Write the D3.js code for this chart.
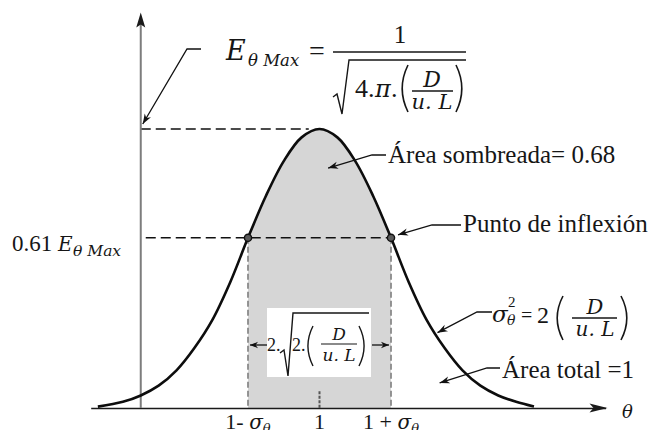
<!DOCTYPE html>
<html>
<head>
<meta charset="utf-8">
<script src="https://cdn.jsdelivr.net/npm/d3@7"></script>
<style>
  html, body { margin: 0; padding: 0; background: #fff; }
  svg { display: block; }
  .txt  { font-family: "Liberation Serif", "Times New Roman", serif; fill: #161616; }
  .math { font-family: "DejaVu Serif", serif; font-style: italic; fill: #161616; }
</style>
</head>
<body>
<svg id="chart" width="654" height="430"></svg>
<script>
// Offsets from the mean (θ = 1), in units of σθ
const offsets = [-3.1, -2.75, -2.5, -2.25, -2, -1.75, -1.5, -1.25, -1, -0.75, -0.5, -0.25, 0,
                 0.25, 0.5, 0.75, 1, 1.25, 1.5, 1.75, 2, 2.25, 2.5, 2.75, 3.0];
// E(θ) as a fraction of Eθ Max
const relE = [0.005, 0.022, 0.045, 0.08, 0.135, 0.215, 0.315, 0.45, 0.61, 0.76, 0.885, 0.97, 1.0,
              0.97, 0.885, 0.76, 0.61, 0.45, 0.315, 0.215, 0.135, 0.08, 0.045, 0.022, 0.005];
// Tick positions on the θ axis: 1 - σθ, 1, 1 + σθ
const tickOffsets = [-1, 0, 1];
const tickMain = ["1-\u00a0", "1", "1 + "];
const tickSigma = ["σ", "", "σ"];
// Reference levels
const levelMax = 1;
const levelInflexion = 0.61;
const shadedSpan = [-1, 1];
const centreTickHeight = 0.06;
const yAxisOffset = -2.5;
const yAxisTop = 1.41;

const svg = d3.select("#chart");
const x = d3.scaleLinear().domain([-3.2, 4.0]).range([90.7, 605.5]);
const y = d3.scaleLinear().domain([0, 1]).range([408, 129]);

const pts = offsets.map((t, i) => ({ t, e: relE[i] }));
const curve = d3.curveCatmullRom.alpha(0.5);

// Shaded area between 1 - σθ and 1 + σθ
svg.append("clipPath").attr("id", "band")
  .append("rect")
  .attr("x", x(shadedSpan[0])).attr("y", 0)
  .attr("width", x(shadedSpan[1]) - x(shadedSpan[0])).attr("height", y(0));
svg.append("path")
  .datum(pts)
  .attr("clip-path", "url(#band)")
  .attr("fill", "#d6d6d6")
  .attr("d", d3.area().x(d => x(d.t)).y0(y(0)).y1(d => y(d.e)).curve(curve));

// Vertical dashed guides at 1 ± σθ
shadedSpan.forEach(t => {
  svg.append("line")
    .attr("x1", x(t)).attr("x2", x(t))
    .attr("y1", y(levelInflexion)).attr("y2", y(0))
    .attr("stroke", "#8a8a8a").attr("stroke-width", 1.8)
    .attr("stroke-dasharray", "6,3");
});
// Short mark at the mean
svg.append("line")
  .attr("x1", x(0)).attr("x2", x(0))
  .attr("y1", y(centreTickHeight)).attr("y2", y(0))
  .attr("stroke", "#555").attr("stroke-width", 2)
  .attr("stroke-dasharray", "3,1.5");

// White box holding the width expression
const box = { x0: x(-1) + 19, x1: x(1) - 20, y0: 308, y1: 377 };
svg.append("rect")
  .attr("x", box.x0).attr("y", box.y0)
  .attr("width", box.x1 - box.x0).attr("height", box.y1 - box.y0)
  .attr("fill", "#fff");

// Horizontal dashed reference lines
svg.append("line")
  .attr("x1", x(yAxisOffset)).attr("x2", x(-0.15))
  .attr("y1", y(levelMax)).attr("y2", y(levelMax))
  .attr("stroke", "#111").attr("stroke-width", 1.5).attr("stroke-dasharray", "10,5");
svg.append("line")
  .attr("x1", x(yAxisOffset) + 5).attr("x2", x(1))
  .attr("y1", y(levelInflexion)).attr("y2", y(levelInflexion))
  .attr("stroke", "#111").attr("stroke-width", 1.5).attr("stroke-dasharray", "10,5");

// θ axis
const xAxis = d3.axisBottom(x).tickValues(tickOffsets).tickSize(0).tickSizeOuter(0).tickFormat("");
const gx = svg.append("g").attr("transform", `translate(0,${y(0)})`).call(xAxis);
gx.select(".domain").attr("stroke", "#1a1a1a").attr("stroke-width", 1.6);
const xr = x.range();
svg.append("path")
  .attr("d", `M${xr[1] + 2},${y(0)} L${xr[1] - 16},${y(0) - 4.5} L${xr[1] - 12},${y(0)} L${xr[1] - 16},${y(0) + 4.5} Z`)
  .attr("fill", "#1a1a1a");

// E axis
const ya = x(yAxisOffset);
svg.append("line")
  .attr("x1", ya).attr("x2", ya).attr("y1", y(0)).attr("y2", y(yAxisTop) + 8)
  .attr("stroke", "#7d7d7d").attr("stroke-width", 2);
svg.append("path")
  .attr("d", `M${ya},${y(yAxisTop) - 2} L${ya - 4.5},${y(yAxisTop) + 13} L${ya},${y(yAxisTop) + 10} L${ya + 4.5},${y(yAxisTop) + 13} Z`)
  .attr("fill", "#1a1a1a");

// The E(θ) curve
svg.append("path")
  .datum(pts)
  .attr("fill", "none").attr("stroke", "#0d0d0d").attr("stroke-width", 2.6)
  .attr("d", d3.line().x(d => x(d.t)).y(d => y(d.e)).curve(curve));

// Inflection points
shadedSpan.forEach(t => {
  svg.append("circle")
    .attr("cx", x(t)).attr("cy", y(levelInflexion)).attr("r", 3.6)
    .attr("fill", "#5a5a5a").attr("stroke", "#111").attr("stroke-width", 1.4);
});

// Leader lines with arrowheads
function leader(points, size = 10, half = 3.6) {
  svg.append("path")
    .attr("d", d3.line()(points))
    .attr("fill", "none").attr("stroke", "#111").attr("stroke-width", 1.3);
  const [a, b] = points.slice(-2);
  const ang = Math.atan2(b[1] - a[1], b[0] - a[0]);
  const c = Math.cos(ang), s = Math.sin(ang);
  const bx = b[0] - size * c, by = b[1] - size * s;
  svg.append("path")
    .attr("d", `M${b[0]},${b[1]} L${bx - half * s},${by + half * c} L${b[0] - size * 0.7 * c},${b[1] - size * 0.7 * s} L${bx + half * s},${by - half * c} Z`)
    .attr("fill", "#111");
}
leader([[201, 49], [187, 49], [ya + 2, y(levelMax) - 5]]);
leader([[386, 155], [372, 155], [x(0.12), y(0.86)]]);
leader([[461, 225], [432, 225], [x(1) + 7, y(levelInflexion) - 3]]);
leader([[492, 312], [477, 312], [x(1.65), y(0.27)]]);
leader([[500, 368], [487, 368], [x(1.68), y(0.09)]]);
// Arrows spanning 1 - σθ … 1 + σθ
leader([[box.x0, 345], [x(-1) + 2, 345]], 8, 3.2);
leader([[box.x1 + 1, 345], [x(1) - 2, 345]], 8, 3.2);

// Text helpers
function txt(str, px, py, size, cls = "txt", anchor = "start") {
  return svg.append("text").attr("class", cls)
    .attr("x", px).attr("y", py)
    .attr("font-size", size).attr("text-anchor", anchor).text(str);
}
function bar(x0, x1, yy, w = 1.4) {
  svg.append("line").attr("x1", x0).attr("x2", x1).attr("y1", yy).attr("y2", yy)
    .attr("stroke", "#161616").attr("stroke-width", w);
}
function radical(d) {
  svg.append("path").attr("d", d).attr("fill", "none")
    .attr("stroke", "#161616").attr("stroke-width", 1.4).attr("stroke-linejoin", "miter");
}
// Tall thin bracket drawn as a curve; side = -1 for "(" and +1 for ")"
function paren(x0, x1, top, bottom, side, w = 1.6) {
  const mid = (top + bottom) / 2;
  const d = side < 0
    ? `M${x1},${top} Q${x0 - (x1 - x0) * 0.45},${mid} ${x1},${bottom}`
    : `M${x0},${top} Q${x1 + (x1 - x0) * 0.45},${mid} ${x0},${bottom}`;
  svg.append("path").attr("d", d).attr("fill", "none")
    .attr("stroke", "#161616").attr("stroke-width", w);
}

// E θ Max = 1 / √(4·π·(D/u·L))
txt("E", 226, 60, 27, "math");
txt("θ Max", 248, 66, 16.5, "math");
txt("=", 309, 60, 28);
bar(333, 466, 52);
txt("1", 400, 43, 25, "txt", "middle");
radical("M333,97 L337,94 L342,114 L349,60 L466,60");
txt("4.", 355, 97, 26);
txt("π", 375, 97, 24, "math");
txt(".", 391, 97, 26);
paren(400, 408, 65, 112, -1);
txt("D", 432, 87, 22, "math", "middle");
bar(412, 453, 91);
txt("u. L", 432, 109, 21, "math", "middle");
paren(456, 464, 65, 112, 1);

// Annotations
txt("Área sombreada= 0.68", 388, 163, 25);
txt("Punto de inflexión", 463, 232, 25);
txt("Área total =1", 502, 378, 25);

// σθ² = 2 (D / u·L)
txt("σ", 492, 322, 23, "math");
txt("2", 508, 307, 15);
txt("θ", 507, 325, 14, "math");
txt("=", 521, 322, 20);
txt("2", 537, 323, 24);
paren(555, 563, 296, 340, -1);
txt("D", 595, 314, 21, "math", "middle");
bar(572, 617, 318);
txt("u. L", 595, 336, 20, "math", "middle");
paren(621, 629, 296, 340, 1);

// 2·√(2·(D/u·L)) inside the box
txt("2.", 267, 351, 18);
radical("M280,353 L284,350 L288,376 L293,313 L369,313");
txt("2.", 292, 351, 18);
paren(306, 313, 326, 366, -1, 1.4);
txt("D", 339, 340, 17, "math", "middle");
bar(321, 357, 344, 1.2);
txt("u. L", 339, 361, 17, "math", "middle");
paren(359, 366, 326, 366, 1, 1.4);

// 0.61 Eθ Max label on the inflection level
txt("0.61", 12, 251, 23);
txt("E", 58, 251, 20, "math");
txt("θ Max", 73, 256, 15.5, "math");

// θ axis tick labels and axis name
tickOffsets.forEach((t, i) => {
  const el = svg.append("text").attr("class", "txt")
    .attr("x", x(t)).attr("y", 429).attr("font-size", 22).attr("text-anchor", "middle");
  el.append("tspan").text(tickMain[i]);
  if (tickSigma[i]) {
    el.append("tspan").attr("class", "math").attr("font-size", 20).text(tickSigma[i]);
    el.append("tspan").attr("class", "math").attr("font-size", 13).attr("dy", 4).text("θ");
  }
});
txt("θ", 622, 418, 18, "math");
</script>
</body>
</html>
